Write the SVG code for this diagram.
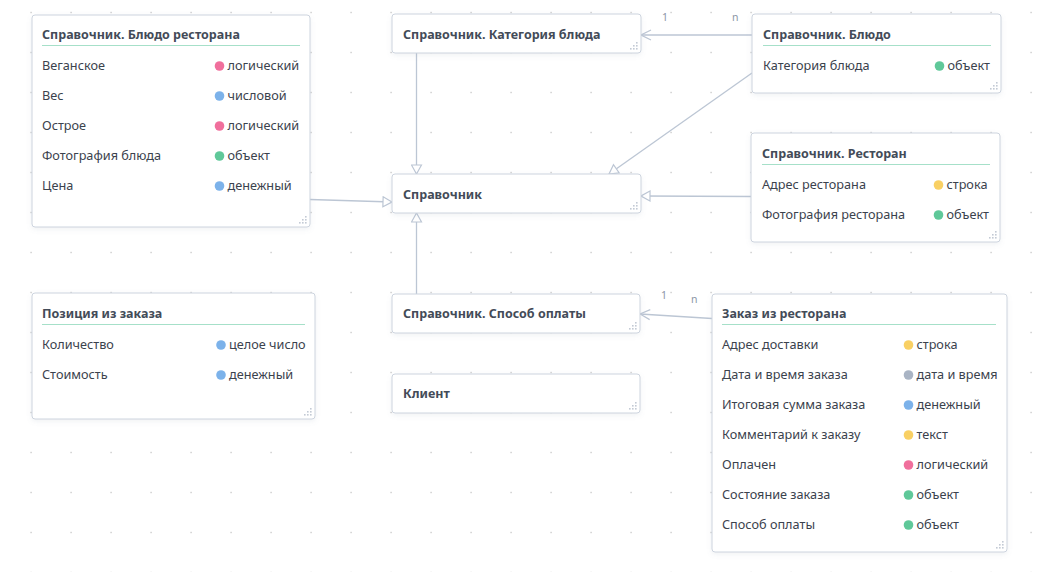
<svg xmlns="http://www.w3.org/2000/svg" width="1037" height="572" viewBox="0 0 1037 572">
<style>
.node rect.box{fill:#fff;stroke:#cdd4de;stroke-width:1;filter:url(#sh)}
.title{font-family:"Noto Sans","Open Sans",sans-serif;font-size:12.5px;font-weight:bold;fill:#434b58}
.row{font-family:"Noto Sans","Open Sans",sans-serif;font-size:12.7px;fill:#3b424d}
.sep{stroke:#a6e0c9;stroke-width:1.2}
.conn{stroke:#bcc6d4;stroke-width:1.3;fill:none}
.lbl{font-family:"Noto Sans","Open Sans",sans-serif;font-size:10.5px;fill:#8c96a6}
.h{fill:#c3cad5}
.pk{fill:#f06f9c}.bl{fill:#7cb2ea}.gr{fill:#5fc899}.ye{fill:#f9d063}.gy{fill:#a9b4c4}
</style>
<defs>
<pattern id="grid" width="40" height="40" patternUnits="userSpaceOnUse">
<rect x="30.4" y="11.8" width="1.4" height="1.4" fill="#cccccc"/>
</pattern>
<filter id="sh" x="-10%" y="-10%" width="120%" height="130%">
<feDropShadow dx="0" dy="2" stdDeviation="2.5" flood-color="#8090a8" flood-opacity="0.12"/>
</filter>
<marker id="tri" viewBox="0 0 12 12" refX="11" refY="6" markerWidth="12" markerHeight="12" markerUnits="userSpaceOnUse" orient="auto">
<path d="M2,1 L11,6 L2,11 Z" fill="#fff" stroke="#bcc6d4" stroke-width="1.2"/>
</marker>
<marker id="vee" viewBox="0 0 12 12" refX="11" refY="6" markerWidth="12" markerHeight="12" markerUnits="userSpaceOnUse" orient="auto">
<path d="M1,1 L11,6 L1,11" fill="none" stroke="#bcc6d4" stroke-width="1.2"/>
</marker>
<g id="handle">
<rect x="-5" y="-11" width="1.6" height="1.6"/>
<rect x="-8" y="-8" width="1.6" height="1.6"/><rect x="-5" y="-8" width="1.6" height="1.6"/>
<rect x="-11" y="-5" width="1.6" height="1.6"/><rect x="-8" y="-5" width="1.6" height="1.6"/><rect x="-5" y="-5" width="1.6" height="1.6"/>
</g>
</defs>
<rect width="1037" height="572" fill="#fff"/>
<rect width="1037" height="572" fill="url(#grid)"/>

<g id="connectors">
<line class="conn" x1="416.5" y1="53" x2="416.5" y2="174" marker-end="url(#tri)"/>
<line class="conn" x1="752" y1="35" x2="641" y2="35" marker-end="url(#vee)"/>
<line class="conn" x1="752" y1="73" x2="609" y2="174" marker-end="url(#tri)"/>
<line class="conn" x1="310" y1="199.5" x2="392" y2="202" marker-end="url(#tri)"/>
<line class="conn" x1="751" y1="196.5" x2="641" y2="196" marker-end="url(#tri)"/>
<line class="conn" x1="416.5" y1="294" x2="416.5" y2="213" marker-end="url(#tri)"/>
<line class="conn" x1="712" y1="318.5" x2="640" y2="314" marker-end="url(#vee)"/>
<text class="lbl" x="662" y="21">1</text>
<text class="lbl" x="732" y="21">n</text>
<text class="lbl" x="661" y="299">1</text>
<text class="lbl" x="691" y="303">n</text>
</g>

<g id="node-bludo-restorana" class="node">
<rect class="box" x="32" y="15" width="278" height="212" rx="3"/>
<text class="title" x="42" y="39">Справочник. Блюдо ресторана</text>
<line class="sep" x1="42" y1="45.5" x2="300" y2="45.5"/>
<text class="row" x="42" y="70">Веганское</text><circle class="pk" cx="219.5" cy="66" r="4.8"/><text class="row" x="227.5" y="70">логический</text>
<text class="row" x="42" y="100">Вес</text><circle class="bl" cx="219.5" cy="96" r="4.8"/><text class="row" x="227.5" y="100">числовой</text>
<text class="row" x="42" y="130">Острое</text><circle class="pk" cx="219.5" cy="126" r="4.8"/><text class="row" x="227.5" y="130">логический</text>
<text class="row" x="42" y="160">Фотография блюда</text><circle class="gr" cx="219.5" cy="156" r="4.8"/><text class="row" x="227.5" y="160">объект</text>
<text class="row" x="42" y="190">Цена</text><circle class="bl" cx="219.5" cy="186" r="4.8"/><text class="row" x="227.5" y="190">денежный</text>
<use href="#handle" class="h" x="310" y="227"/>
</g>

<g id="node-kategoriya" class="node">
<rect class="box" x="392" y="14" width="249" height="39" rx="3"/>
<text class="title" x="403" y="39">Справочник. Категория блюда</text>
<use href="#handle" class="h" x="641" y="53"/>
</g>

<g id="node-spravochnik" class="node">
<rect class="box" x="392" y="174" width="249" height="39" rx="3"/>
<text class="title" x="403" y="199">Справочник</text>
<use href="#handle" class="h" x="641" y="213"/>
</g>

<g id="node-bludo" class="node">
<rect class="box" x="752" y="14" width="249" height="79" rx="3"/>
<text class="title" x="763" y="39">Справочник. Блюдо</text>
<line class="sep" x1="763" y1="45.5" x2="991" y2="45.5"/>
<text class="row" x="763" y="70">Категория блюда</text><circle class="gr" cx="939.5" cy="66" r="4.8"/><text class="row" x="947.5" y="70">объект</text>
<use href="#handle" class="h" x="1001" y="93"/>
</g>

<g id="node-restoran" class="node">
<rect class="box" x="751" y="133" width="249" height="109" rx="3"/>
<text class="title" x="762" y="157.5">Справочник. Ресторан</text>
<line class="sep" x1="762" y1="164.5" x2="990" y2="164.5"/>
<text class="row" x="762" y="189">Адрес ресторана</text><circle class="ye" cx="938.5" cy="185" r="4.8"/><text class="row" x="946.5" y="189">строка</text>
<text class="row" x="762" y="219">Фотография ресторана</text><circle class="gr" cx="938.5" cy="215" r="4.8"/><text class="row" x="946.5" y="219">объект</text>
<use href="#handle" class="h" x="1000" y="242"/>
</g>

<g id="node-poziciya" class="node">
<rect class="box" x="32" y="293" width="283" height="126" rx="3"/>
<text class="title" x="42" y="318">Позиция из заказа</text>
<line class="sep" x1="42" y1="324.5" x2="305" y2="324.5"/>
<text class="row" x="42" y="349">Количество</text><circle class="bl" cx="221" cy="345" r="4.8"/><text class="row" x="229" y="349">целое число</text>
<text class="row" x="42" y="379">Стоимость</text><circle class="bl" cx="221" cy="375" r="4.8"/><text class="row" x="229" y="379">денежный</text>
<use href="#handle" class="h" x="315" y="419"/>
</g>

<g id="node-sposob-oplaty" class="node">
<rect class="box" x="392" y="294" width="248" height="39" rx="3"/>
<text class="title" x="403" y="318">Справочник. Способ оплаты</text>
<use href="#handle" class="h" x="640" y="333"/>
</g>

<g id="node-klient" class="node">
<rect class="box" x="392" y="374" width="248" height="39" rx="3"/>
<text class="title" x="403" y="398">Клиент</text>
<use href="#handle" class="h" x="640" y="413"/>
</g>

<g id="node-zakaz" class="node">
<rect class="box" x="712" y="294" width="295" height="258" rx="3"/>
<text class="title" x="722" y="318">Заказ из ресторана</text>
<line class="sep" x1="722" y1="324.5" x2="996" y2="324.5"/>
<text class="row" x="722" y="349">Адрес доставки</text><circle class="ye" cx="908.5" cy="345" r="4.8"/><text class="row" x="916.5" y="349">строка</text>
<text class="row" x="722" y="379">Дата и время заказа</text><circle class="gy" cx="908.5" cy="375" r="4.8"/><text class="row" x="916.5" y="379">дата и время</text>
<text class="row" x="722" y="409">Итоговая сумма заказа</text><circle class="bl" cx="908.5" cy="405" r="4.8"/><text class="row" x="916.5" y="409">денежный</text>
<text class="row" x="722" y="439">Комментарий к заказу</text><circle class="ye" cx="908.5" cy="435" r="4.8"/><text class="row" x="916.5" y="439">текст</text>
<text class="row" x="722" y="469">Оплачен</text><circle class="pk" cx="908.5" cy="465" r="4.8"/><text class="row" x="916.5" y="469">логический</text>
<text class="row" x="722" y="499">Состояние заказа</text><circle class="gr" cx="908.5" cy="495" r="4.8"/><text class="row" x="916.5" y="499">объект</text>
<text class="row" x="722" y="529">Способ оплаты</text><circle class="gr" cx="908.5" cy="525" r="4.8"/><text class="row" x="916.5" y="529">объект</text>
<use href="#handle" class="h" x="1007" y="552"/>
</g>
</svg>
